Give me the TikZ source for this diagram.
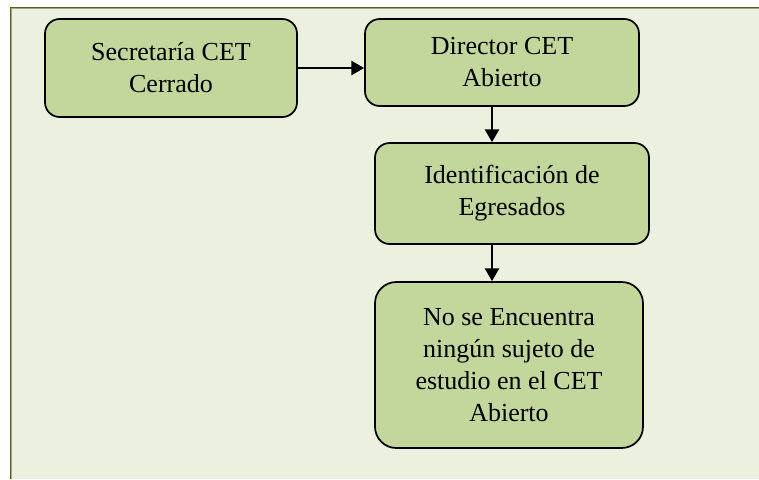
\documentclass[tikz,border=0pt]{standalone}
\usepackage{fontspec}
\setmainfont{Liberation Serif}
\usetikzlibrary{arrows.meta}
\definecolor{fondo}{HTML}{EBF1DE}
\definecolor{caja}{HTML}{C3D69B}
\definecolor{marco}{HTML}{4F6228}
\begin{document}
\begin{tikzpicture}[x=0.75pt,y=-0.75pt,
    paso/.style={draw=black,line width=1.3pt,fill=caja,rounded corners=11pt,
      align=center,inner sep=0pt,font=\fontsize{19.5}{24}\selectfont},
    flecha/.style={line width=1.6pt,-{Triangle[length=9.5pt,width=10.5pt]}}]
        \useasboundingbox (0,0) rectangle (759,479);
        \fill[fondo] (11,8) rectangle (759,479);
        \draw[marco,line width=0.8pt,double=marco!55,double distance=0.6pt] (11,479)--(11,8)--(759,8);

        \node (secre) at (171,68) [paso,minimum width=189pt,minimum height=73.5pt] {Secretaría CET\\Cerrado};
        \node (dir) at (502,62.5) [paso,minimum width=205.5pt,minimum height=65.25pt] {Director CET\\Abierto};
        \node (ident) at (512,193.5) [paso,minimum width=205.5pt,minimum height=75.75pt] {Identificación de\\Egresados};
        \node (ninguno) at (509,365) [paso,rounded corners=16pt,minimum width=201pt,minimum height=124.5pt]
              {No se Encuentra\\ningún sujeto de\\estudio en el CET\\Abierto};
        \coordinate (eje) at (492,0);

        \draw[flecha] (secre.east) -- (dir.west |- secre.east);
        \draw[flecha] (dir.south -| eje) -- (ident.north -| eje);
        \draw[flecha] (ident.south -| eje) -- (ninguno.north -| eje);
\end{tikzpicture}
\end{document}
